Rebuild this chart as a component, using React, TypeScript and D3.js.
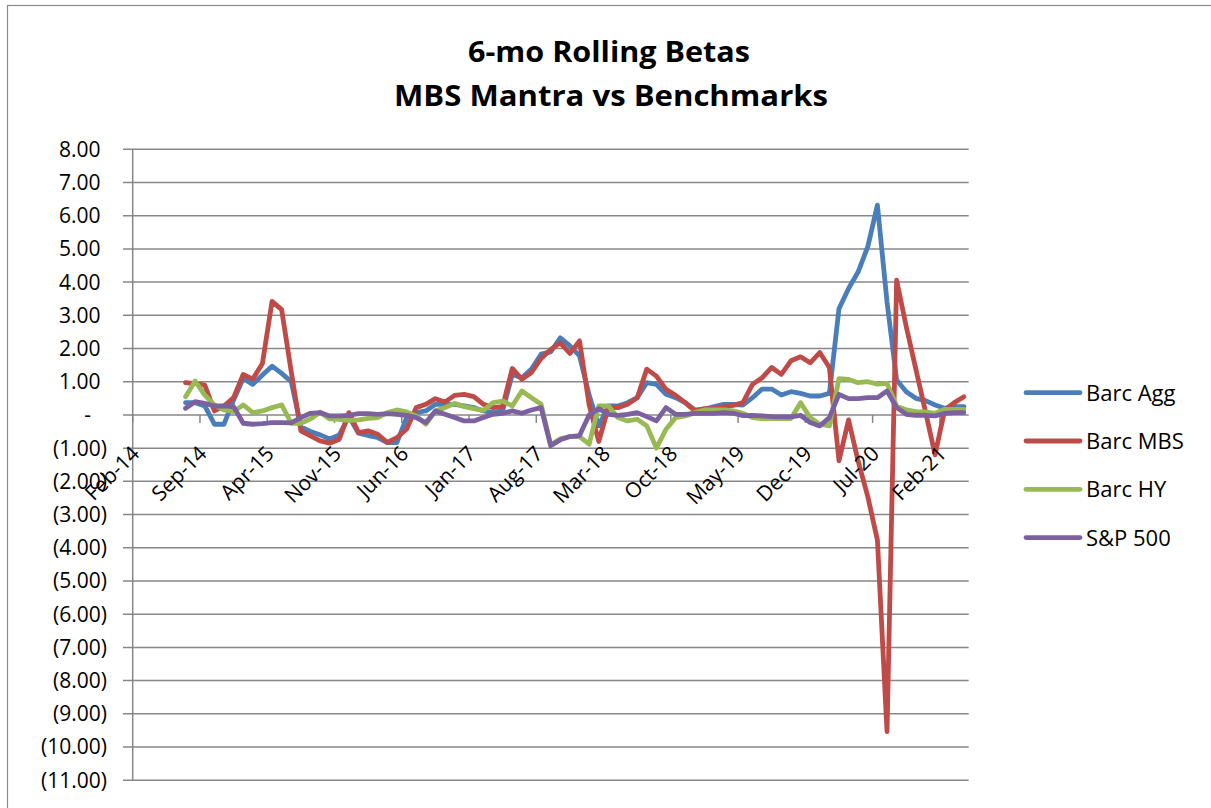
import React from "react";
import * as d3 from "d3";

// Axis months (category slots), Feb-14 .. Apr-21
const axisMonths = [
  "Feb-14","Mar-14","Apr-14","May-14","Jun-14","Jul-14","Aug-14","Sep-14","Oct-14","Nov-14","Dec-14",
  "Jan-15","Feb-15","Mar-15","Apr-15","May-15","Jun-15","Jul-15","Aug-15","Sep-15","Oct-15","Nov-15","Dec-15",
  "Jan-16","Feb-16","Mar-16","Apr-16","May-16","Jun-16","Jul-16","Aug-16","Sep-16","Oct-16","Nov-16","Dec-16",
  "Jan-17","Feb-17","Mar-17","Apr-17","May-17","Jun-17","Jul-17","Aug-17","Sep-17","Oct-17","Nov-17","Dec-17",
  "Jan-18","Feb-18","Mar-18","Apr-18","May-18","Jun-18","Jul-18","Aug-18","Sep-18","Oct-18","Nov-18","Dec-18",
  "Jan-19","Feb-19","Mar-19","Apr-19","May-19","Jun-19","Jul-19","Aug-19","Sep-19","Oct-19","Nov-19","Dec-19",
  "Jan-20","Feb-20","Mar-20","Apr-20","May-20","Jun-20","Jul-20","Aug-20","Sep-20","Oct-20","Nov-20","Dec-20",
  "Jan-21","Feb-21","Mar-21","Apr-21",
];

// Data months: Jul-14 .. Apr-21
const dataMonths = axisMonths.slice(5);

const tickLabels = [
  "Feb-14","Sep-14","Apr-15","Nov-15","Jun-16","Jan-17","Aug-17","Mar-18","Oct-18","May-19","Dec-19","Jul-20","Feb-21",
];

const yTicks = [8,7,6,5,4,3,2,1,0,-1,-2,-3,-4,-5,-6,-7,-8,-9,-10,-11];

const barcAgg = [
  0.37,0.37,0.27,-0.28,-0.28,0.45,1.1,0.92,1.2,1.47,1.25,1.0,
  -0.35,-0.5,-0.6,-0.72,-0.6,-0.05,-0.55,-0.62,-0.68,-0.83,-0.83,-0.08,
  0.07,0.12,0.32,0.32,0.32,0.27,0.22,0.12,0.07,0.12,1.22,1.12,
  1.38,1.83,1.9,2.32,2.08,1.78,0.6,-0.33,0.27,0.27,0.37,0.52,
  0.97,0.92,0.62,0.52,0.37,0.15,0.17,0.25,0.32,0.32,0.3,0.52,
  0.78,0.78,0.6,0.7,0.65,0.57,0.57,0.65,3.2,3.81,4.31,5.07,
  6.32,3.4,1.05,0.7,0.5,0.43,0.3,0.2,0.25,0.25,
];

const barcMBS = [
  0.97,0.94,0.9,0.12,0.27,0.52,1.22,1.08,1.55,3.42,3.17,1.3,
  -0.48,-0.63,-0.78,-0.85,-0.73,0.07,-0.53,-0.48,-0.58,-0.83,-0.68,-0.43,
  0.22,0.32,0.49,0.39,0.59,0.62,0.55,0.32,0.22,0.25,1.4,1.07,
  1.28,1.7,1.97,2.17,1.85,2.23,0.3,-0.8,0.22,0.22,0.32,0.52,
  1.38,1.17,0.77,0.59,0.37,0.12,0.19,0.19,0.25,0.29,0.37,0.92,
  1.12,1.43,1.22,1.63,1.75,1.57,1.88,1.43,-1.38,-0.15,-1.4,-2.46,
  -3.77,-9.54,4.06,2.66,1.38,0.1,-1.2,0.15,0.37,0.55,
];

const barcHY = [
  0.55,1.02,0.6,0.3,0.15,0.1,0.3,0.07,0.12,0.22,0.3,-0.25,
  -0.25,-0.12,0.08,-0.12,-0.13,-0.17,-0.15,-0.1,-0.08,0.07,0.15,0.09,
  -0.03,-0.28,0.12,0.22,0.35,0.25,0.19,0.14,0.37,0.42,0.27,0.72,
  0.52,0.32,-0.9,-0.72,-0.65,-0.65,-0.88,0.27,0.27,-0.08,-0.18,-0.13,
  -0.33,-1.0,-0.43,-0.08,-0.03,0.07,0.15,0.15,0.15,0.12,0.05,-0.08,
  -0.11,-0.11,-0.11,-0.11,0.37,-0.08,-0.28,-0.33,1.09,1.07,0.97,1.0,
  0.93,0.95,0.27,0.15,0.1,0.09,0.05,0.17,0.17,0.17,
];

const sp500 = [
  0.2,0.4,0.35,0.27,0.27,0.25,-0.25,-0.28,-0.26,-0.23,-0.23,-0.24,
  -0.08,0.05,0.07,-0.03,-0.03,-0.01,0.04,0.04,0.02,0.04,0.02,-0.01,
  -0.08,-0.23,0.12,0.02,-0.08,-0.18,-0.18,-0.08,0.02,0.05,0.12,0.05,
  0.15,0.22,-0.93,-0.75,-0.65,-0.62,0.0,0.19,0.02,-0.01,0.02,0.07,
  -0.05,-0.18,0.22,0.02,0.02,0.05,0.05,0.05,0.07,0.05,-0.02,-0.01,
  -0.03,-0.05,-0.06,-0.06,-0.01,-0.23,-0.33,-0.08,0.62,0.49,0.49,0.52,
  0.52,0.72,0.22,0.02,-0.01,-0.01,-0.03,0.05,0.07,0.07,
];

const seriesNames = ["Barc Agg", "Barc MBS", "Barc HY", "S&P 500"];
const seriesColors = ["#4A7EBB", "#BE4B48", "#98B954", "#7D60A0"];
const seriesValues = [barcAgg, barcMBS, barcHY, sp500];

const W = 1211;
const H = 808;
const plotLeft = 132.7;
const plotRight = 968.7;
const FONT = "'Open Sans', 'Liberation Sans', sans-serif";

function fmt(v: number): string {
  if (v === 0) return "-";
  const s = Math.abs(v).toFixed(2);
  return v < 0 ? `(${s})` : s;
}

export default function App() {
  const x = d3.scaleBand<string>().domain(axisMonths).range([plotLeft, plotRight]).padding(0);
  const y = d3.scaleLinear().domain([-11, 8]).range([780.2, 149.3]);
  const bw = x.bandwidth();

  const line = d3
    .line<number>()
    .x((_, i) => (x(dataMonths[i]) as number) + bw / 2)
    .y((d) => y(d));

  const gridColor = "#878787";

  return (
    <div style={{ position: "absolute", left: 0, top: 0, width: W, height: H, background: "#fff" }}>
      <svg width={W} height={H} style={{ display: "block" }}>
        <rect x={7.5} y={5.5} width={W + 10} height={H + 10} fill="#fff" stroke="#8a8a8a" strokeWidth={1.2} />
        {/* Title */}
        <text x={609} y={62} textAnchor="middle" fontFamily={FONT} fontWeight="bold" fontSize={29}
          textLength={282} lengthAdjust="spacingAndGlyphs" fill="#000">6-mo Rolling Betas</text>
        <text x={611} y={106} textAnchor="middle" fontFamily={FONT} fontWeight="bold" fontSize={29}
          textLength={434} lengthAdjust="spacingAndGlyphs" fill="#000">MBS Mantra vs Benchmarks</text>

        {/* Gridlines */}
        {yTicks.map((t) => (
          <line key={t} x1={123} x2={plotRight} y1={y(t)} y2={y(t)} stroke={gridColor} strokeWidth={1.5} />
        ))}
        {/* Y axis */}
        <line x1={plotLeft} x2={plotLeft} y1={y(8)} y2={y(-11)} stroke={gridColor} strokeWidth={1.5} />
        {/* X axis ticks */}
        {tickLabels.map((t) => (
          <line key={t} x1={x(t) as number} x2={x(t) as number} y1={y(0)} y2={y(0) + 8} stroke={gridColor} strokeWidth={1.5} />
        ))}

        {/* Y labels */}
        {yTicks.map((t) => (
          <text key={t} x={t === 0 ? 91 : t < 0 ? 107 : 100.5} y={y(t) + 7.5} textAnchor="end"
            fontFamily={FONT} fontSize={21} fill="#000">{fmt(t)}</text>
        ))}

        {/* Series */}
        {seriesValues.map((vals, k) => (
          <path key={k} d={line(vals) as string} fill="none" stroke={seriesColors[k]} strokeWidth={4.8}
            strokeLinejoin="round" strokeLinecap="round" />
        ))}

        {/* X labels */}
        {tickLabels.map((t) => {
          const tx = (x(t) as number) + 8;
          const ty = 455;
          return (
            <text key={t} x={tx} y={ty} textAnchor="end" fontFamily={FONT} fontSize={21} fill="#000"
              transform={`rotate(-45 ${tx} ${ty})`}>{t}</text>
          );
        })}

        {/* Legend */}
        {seriesNames.map((n, k) => {
          const ly = 392.7 + k * 48.3;
          return (
            <g key={n}>
              <line x1={1026} x2={1080} y1={ly} y2={ly} stroke={seriesColors[k]} strokeWidth={4.8} strokeLinecap="round" />
              <text x={1086} y={ly + 8} fontFamily={FONT} fontSize={22} fill="#000">{n}</text>
            </g>
          );
        })}
      </svg>
    </div>
  );
}
